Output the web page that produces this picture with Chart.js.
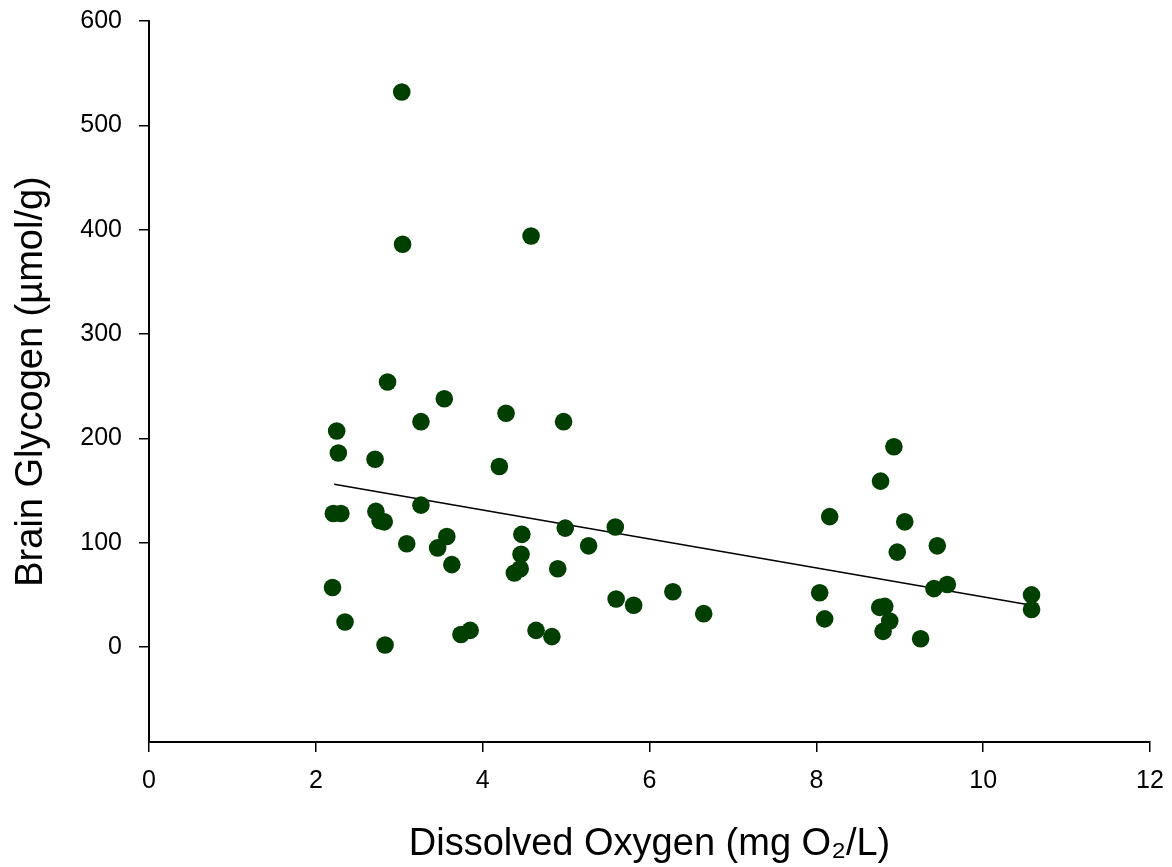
<!DOCTYPE html>
<html>
<head>
<meta charset="utf-8">
<script src="https://cdn.jsdelivr.net/npm/chart.js@4.4.1/dist/chart.umd.min.js"></script>
<style>
    html, body { margin: 0; padding: 0; background: #fff; }
    #wrap { width: 1172px; height: 867px; }
</style>
</head>
<body>
<div id="wrap"><canvas id="chart" width="1172" height="867"></canvas></div>
<script>
// dissolved oxygen (mg O2/L) for each fish
const oxygen = [
    3.03, 3.04, 4.58, 2.86, 3.54, 4.28, 4.97, 3.26, 2.25, 2.27,
    2.71, 4.20, 2.21, 2.30, 2.72, 2.77, 2.82, 3.26, 3.09, 3.46,
    3.57, 3.63, 4.47, 4.46, 4.45, 4.38, 4.99, 5.27, 5.59, 4.90,
    2.20, 2.35, 2.83, 3.74, 3.85, 4.64, 4.83, 5.60, 5.81, 6.28,
    6.65, 8.93, 8.77, 8.16, 9.06, 8.97, 9.45, 8.04, 8.10, 8.76,
    8.82, 8.88, 8.80, 9.25, 9.41, 9.57, 10.58, 10.58
]
// brain glycogen (umol/g), same order
const glycogen = [
    532, 386, 394, 254, 238, 224, 216, 216, 207, 186,
    180, 173, 128, 128, 130, 121, 120, 136, 99, 95,
    106, 79, 108, 89, 75, 71, 114, 97, 115, 75,
    57, 24, 2, 12, 16, 16, 10, 46, 40, 53,
    32, 192, 159, 125, 120, 91, 97, 52, 27, 38,
    39, 25, 15, 8, 56, 60, 50, 36
]
// fitted regression line end points
const fitX = [2.22, 10.58]
const fitY = [156, 40]

const xTicks = [0, 2, 4, 6, 8, 10, 12]
const yTicks = [0, 100, 200, 300, 400, 500, 600]

const fontFamily = "'Liberation Sans', Arial, Helvetica, sans-serif"

const points = oxygen.map((x, i) => ({ x, y: glycogen[i] }))
const fit = fitX.map((x, i) => ({ x, y: fitY[i] }))

const ctx = document.getElementById('chart').getContext('2d')
new Chart(ctx, {
    type: 'scatter',
    data: {
        datasets: [
            {
                data: points,
                backgroundColor: '#003f00',
                borderColor: '#003f00',
                borderWidth: 0,
                pointRadius: 8.8,
                order: 1
            },
            {
                type: 'line',
                data: fit,
                borderColor: '#000',
                borderWidth: 1.6,
                pointRadius: 0,
                fill: false,
                order: 2
            }
        ]
    },
    options: {
        responsive: false,
        animation: false,
        layout: { padding: { top: 21, right: 22, left: 0, bottom: 0 } },
        plugins: { legend: { display: false }, tooltip: { enabled: false } },
        scales: {
            x: {
                type: 'linear',
                min: 0,
                max: 12,
                afterBuildTicks: scale => { scale.ticks = xTicks.map(value => ({ value })) },
                afterFit: scale => {
                    scale.height = 125
                    scale.paddingLeft = 0
                    scale.paddingRight = 0
                },
                grid: { drawOnChartArea: false, tickLength: 10, color: '#000', lineWidth: 1.5 },
                border: { color: '#000', width: 2 },
                ticks: { color: '#000', padding: 14, font: { family: fontFamily, size: 25 } },
                title: {
                    display: true,
                    text: 'Dissolved Oxygen (mg O₂/L)',
                    color: '#000',
                    padding: { top: 0, bottom: 0 },
                    font: { family: fontFamily, size: 38 }
                }
            },
            y: {
                type: 'linear',
                min: -91,
                max: 600,
                afterBuildTicks: scale => { scale.ticks = yTicks.map(value => ({ value })) },
                afterFit: scale => {
                    scale.width = 149
                    scale.paddingTop = 0
                    scale.paddingBottom = 0
                },
                grid: { drawOnChartArea: false, tickLength: 10, color: '#000', lineWidth: 1.5 },
                border: { color: '#000', width: 2 },
                ticks: { color: '#000', padding: 17, font: { family: fontFamily, size: 25 } },
                title: {
                    display: true,
                    text: 'Brain Glycogen (µmol/g)',
                    color: '#000',
                    padding: { top: 9, bottom: 0 },
                    font: { family: fontFamily, size: 38 }
                }
            }
        }
    }
})
</script>
</body>
</html>
